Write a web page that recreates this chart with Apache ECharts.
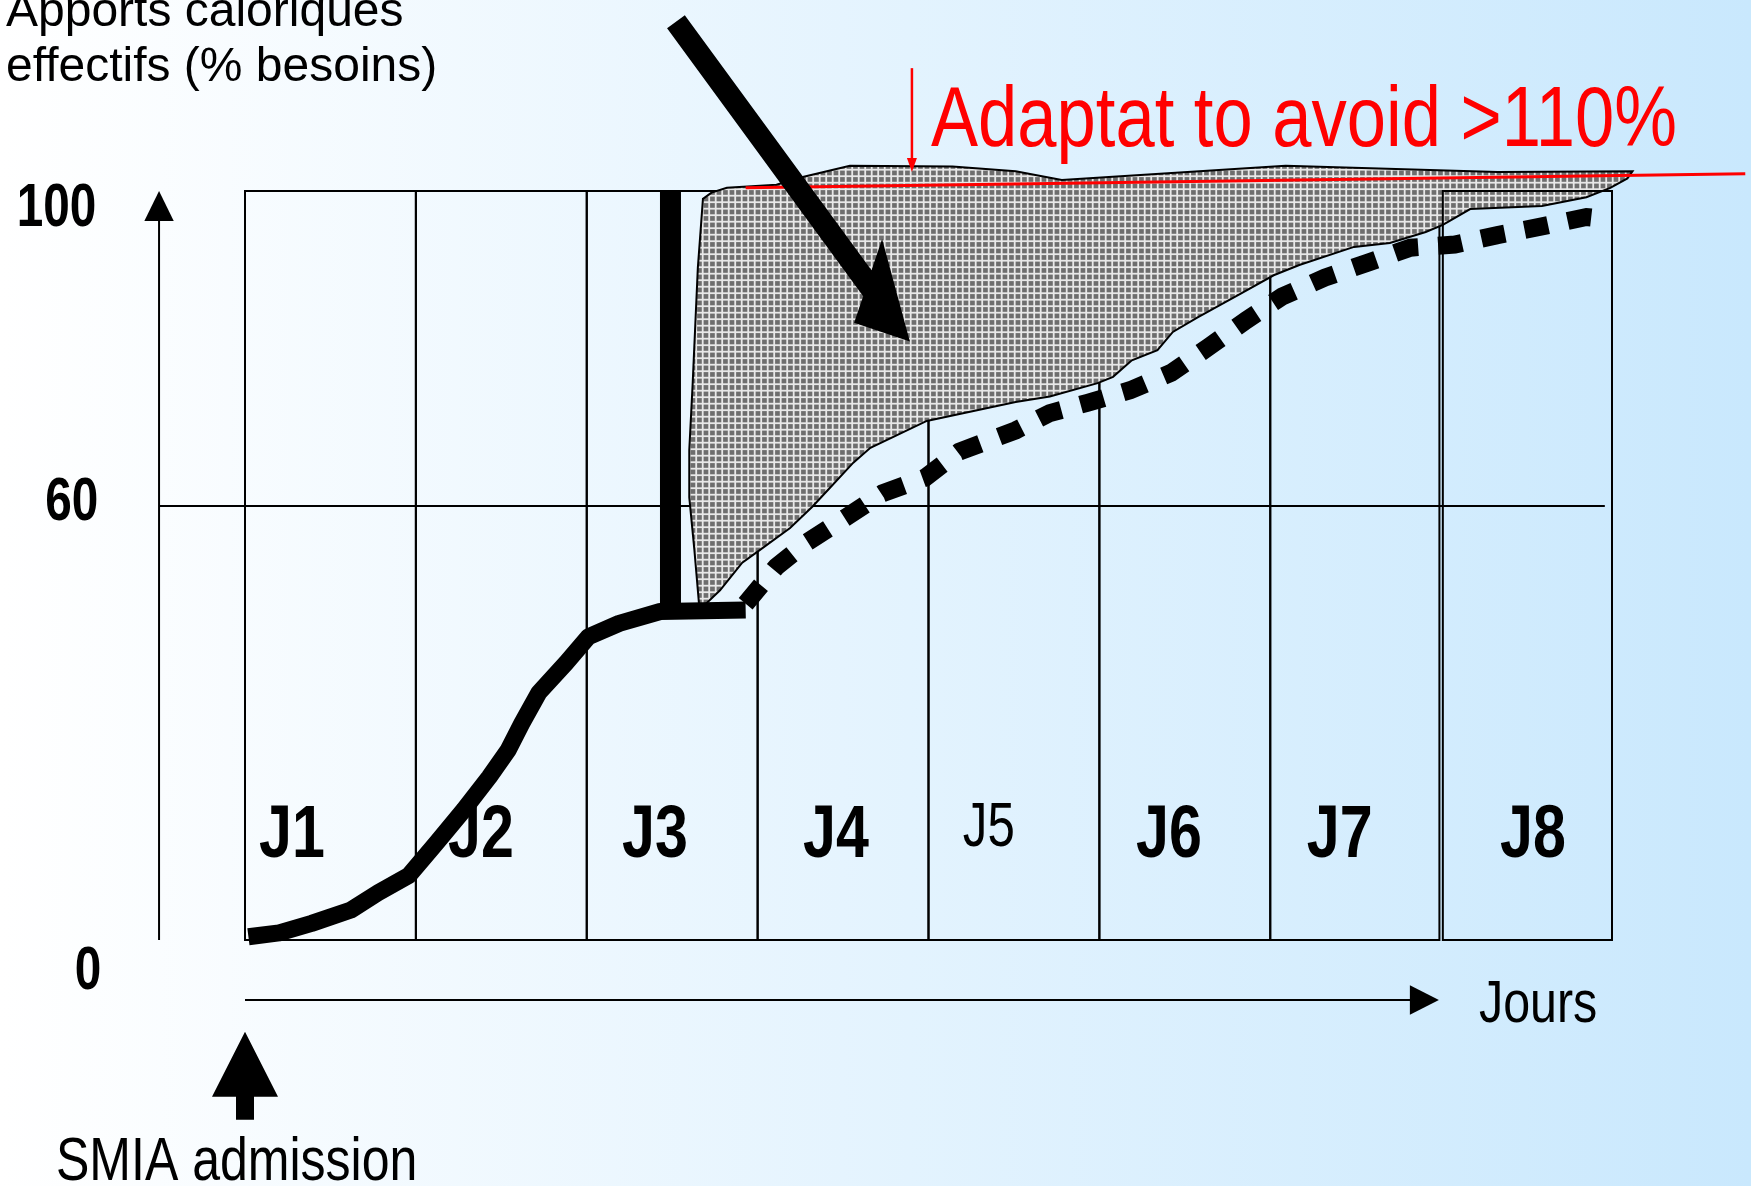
<!DOCTYPE html>
<html>
<head>
<meta charset="utf-8">
<script src="https://cdn.jsdelivr.net/npm/echarts@6/dist/echarts.min.js"></script>
<style>html,body{margin:0;padding:0;background:#fff;}#main{width:1751px;height:1186px;}</style>
</head>
<body>
<div id="main"></div>
<script>
// ---------- DATA ----------
const days = ['J1', 'J2', 'J3', 'J4', 'J5', 'J6', 'J7', 'J8'];
const yTicks = [0, 60, 100];
// Apports effectifs observés (trait plein) [jour, % besoins]
const intakeObserved = [[0.02,5.3],[0.2,5.8],[0.39,7.0],[0.62,8.7],[0.78,10.9],[0.96,13.1],[1.12,17.2],[1.28,21.4],[1.43,25.6],[1.54,29.0],[1.62,32.4],[1.72,36.3],[1.88,40.1],[2.01,43.4],[2.19,45.1],[2.43,46.6],[2.93,46.8]];
// Barre verticale (saut à 100 %)
const bolusBar = [[2.49,100],[2.49,45.9]];
// Apports projetés (pointillés)
const intakeProjected = [[2.93,47.6],[3.11,52.3],[3.29,55.4],[3.52,58.6],[3.73,61.6],[3.98,63.6],[4.18,66.9],[4.51,69.6],[4.71,71.8],[4.93,73.1],[5.18,74.7],[5.42,76.9],[5.64,80.2],[5.86,83.6],[6.07,86.6],[6.32,89.0],[6.57,90.9],[6.82,92.8],[7.08,93.2],[7.33,94.4],[7.59,95.5],[7.85,96.7],[7.93,96.5]];
// Zone grisée : bord supérieur puis bord inférieur
const gapUpper = [[2.66,46.8],[2.63,54.4],[2.60,61.1],[2.60,67.1],[2.62,75.6],[2.65,90.2],[2.68,99.0],[2.73,99.8],[2.82,100.4],[3.11,100.8],[3.27,101.8],[3.54,103.2],[4.14,103.1],[4.51,102.5],[4.78,101.4],[6.09,103.2],[7.33,102.4],[8.12,102.5],[8.09,101.6],[7.99,100.4]];
const gapLower = [[7.85,99.2],[7.59,98.1],[7.17,97.7],[7.01,95.7],[6.91,94.8],[6.70,93.4],[6.49,92.9],[6.17,90.6],[6.02,89.3],[5.83,87.0],[5.57,83.9],[5.43,82.1],[5.34,79.8],[5.19,78.5],[5.08,76.4],[4.99,75.6],[4.71,73.9],[4.51,73.2],[3.99,70.8],[3.66,67.4],[3.56,65.5],[3.41,62.0],[3.32,59.9],[3.19,57.2],[3.00,54.2],[2.91,52.8],[2.78,49.3],[2.66,46.8]];
// Ligne rouge (limite)
const limitLine = [[2.93,100.4],[8.78,102.2]];

// ---------- LAYOUT (positions, not data) ----------
const L = {
  boxBottom: 4.9, mainBoxEnd: 6.99, j8Start: 7.01, j8End: 8,
  yAxisX: -0.503, xAxisY: -2.73, xAxisEnd: 6.987, line60End: 7.958,
  dayLabelX: [0.275, 1.381, 2.399, 3.458, 4.353, 5.407, 6.407, 7.537],
  dayLabelY: 17.97, j5LabelY: 19.05,
  tickLabelX: -0.87, tickLabelDy: {0: -7, 60: -3, 100: 18}, tickLabelDx: {0: 5, 60: 2, 100: 0},
  bigArrowTail: [2.522, 121.5], bigArrowTip: [3.891, 80.9],
  redArrowFrom: [3.903, 115.6], redArrowTo: [3.903, 102.4],
  redTextAt: [4.015, 108.7],
  smiaArrowTip: [0, -6.76]
};
const FONT = '"Liberation Sans", Arial, Helvetica, sans-serif';

function arrowParts(a, b, w, hl, hw, color) {
  const dx = b[0]-a[0], dy = b[1]-a[1], len = Math.hypot(dx, dy);
  const ux = dx/len, uy = dy/len, nx = -uy, ny = ux;
  const base = [b[0]-ux*hl, b[1]-uy*hl];
  return [
    {type:'line', shape:{x1:a[0], y1:a[1], x2:base[0]+ux, y2:base[1]+uy}, style:{stroke:color, lineWidth:w}},
    {type:'polygon', shape:{points:[b, [base[0]+nx*hw, base[1]+ny*hw], [base[0]-nx*hw, base[1]-ny*hw]]}, style:{fill:color}}
  ];
}

function makePattern() {
  const cv = document.createElement('canvas');
  cv.width = 13; cv.height = 13;
  const g = cv.getContext('2d');
  g.fillStyle = '#e8e8e8'; g.fillRect(0, 0, 13, 13);
  g.fillStyle = '#6e6e6e';
  [[1.6,1.6],[8.1,1.6],[1.6,8.1],[8.1,8.1]].forEach(p => g.fillRect(p[0], p[1], 4.7, 4.7));
  return cv;
}
const hatch = {image: makePattern(), repeat: 'repeat'};

function dayText(i, p) {
  const isJ5 = days[i] === 'J5';
  return {
    type: 'text', x: p[0], y: p[1], scaleX: isJ5 ? 0.78 : 0.8,
    style: {text: days[i], fill: '#000', fontFamily: FONT, fontWeight: isJ5 ? 'normal' : 'bold',
            fontSize: isJ5 ? 63 : 74, align: 'center', verticalAlign: 'middle'}
  };
}

const chart = echarts.init(document.getElementById('main'), null, {renderer: 'canvas'});
chart.setOption({
  animation: false,
  backgroundColor: {type:'linear', x:0, y:0, x2:1, y2:0,
    colorStops:[{offset:0, color:'#ffffff'}, {offset:1, color:'#c9e8fd'}]},
  grid: {left: 245, right: 139, top: 191, bottom: 207.5},
  xAxis: {type:'value', min:0, max:8, show:false},
  yAxis: {type:'value', min:0, max:100, show:false},
  graphic: [
    {type:'text', x:6, y:13, style:{text:'Apports caloriques', fill:'#000', fontFamily:FONT, fontSize:48, verticalAlign:'middle'}},
    {type:'text', x:6, y:68, style:{text:'effectifs (% besoins)', fill:'#000', fontFamily:FONT, fontSize:48, verticalAlign:'middle'}},
    {type:'text', x:1479, y:1006, scaleX:0.82, style:{text:'Jours', fill:'#000', fontFamily:FONT, fontSize:59, verticalAlign:'middle'}},
    {type:'text', x:56, y:1163, scaleX:0.82, style:{text:'SMIA admission', fill:'#000', fontFamily:FONT, fontSize:61, verticalAlign:'middle'}}
  ],
  series: [
    { // frame: axes arrows, 60 line, tick labels, day cells J1-J7
      type:'custom', z:1, silent:true, data:[[0,0]],
      renderItem: function(params, api) {
        const c = p => api.coord(p);
        const ch = [];
        ch.push(...arrowParts(c([L.yAxisX, L.boxBottom]), c([L.yAxisX, 100]), 2, 30, 14.7, '#000'));
        ch.push(...arrowParts(c([0, L.xAxisY]), c([L.xAxisEnd, L.xAxisY]), 2, 29, 14.7, '#000'));
        const a = c([L.yAxisX, 60]), b = c([L.line60End, 60]);
        ch.push({type:'line', shape:{x1:a[0], y1:a[1], x2:b[0], y2:b[1]}, style:{stroke:'#000', lineWidth:2}});
        yTicks.forEach(v => {
          const p = c([L.tickLabelX, v]);
          ch.push({type:'text', x:p[0] + L.tickLabelDx[v], y:p[1] + L.tickLabelDy[v], scaleX:0.77,
            style:{text:String(v), fill:'#000', fontFamily:FONT, fontWeight:'bold', fontSize:62, align:'right', verticalAlign:'middle'}});
        });
        for (let i = 0; i < 7; i++) {
          const p0 = c([i, 100]), p1 = c([i === 6 ? L.mainBoxEnd : i + 1, L.boxBottom]);
          ch.push({type:'rect', shape:{x:p0[0], y:p0[1], width:p1[0]-p0[0], height:p1[1]-p0[1]},
            style:{fill:'none', stroke:'#000', lineWidth:2}});
          ch.push(dayText(i, c([L.dayLabelX[i], days[i] === 'J5' ? L.j5LabelY : L.dayLabelY])));
        }
        return {type:'group', children: ch};
      }
    },
    { // hatched gap area
      type:'custom', z:3, silent:true, data:[[0,0]],
      renderItem: function(params, api) {
        const pts = gapUpper.concat(gapLower).map(p => api.coord(p));
        return {type:'polygon', shape:{points: pts}, style:{fill: hatch, stroke:'#000', lineWidth:2}};
      }
    },
    { // J8 cell (drawn over the hatched area)
      type:'custom', z:4, silent:true, data:[[0,0]],
      renderItem: function(params, api) {
        const c = p => api.coord(p);
        const p0 = c([L.j8Start, 100]), p1 = c([L.j8End, L.boxBottom]);
        return {type:'group', children:[
          {type:'rect', shape:{x:p0[0], y:p0[1], width:p1[0]-p0[0], height:p1[1]-p0[1]}, style:{fill:'none', stroke:'#000', lineWidth:2}},
          dayText(7, c([L.dayLabelX[7], L.dayLabelY]))
        ]};
      }
    },
    {type:'line', z:5, clip:false, silent:true, data:intakeObserved, showSymbol:false, symbol:'none',
      lineStyle:{color:'#000', width:17, cap:'butt', join:'round'}},
    {type:'line', z:5, clip:false, silent:true, data:bolusBar, showSymbol:false, symbol:'none',
      lineStyle:{color:'#000', width:21, cap:'butt'}},
    {type:'line', z:6, clip:false, silent:true, data:intakeProjected, showSymbol:false, symbol:'none',
      lineStyle:{color:'#000', width:18, type:[24, 20], cap:'butt', join:'miter'}},
    { // limit line + annotations
      type:'custom', z:7, silent:true, data:[[0,0]],
      renderItem: function(params, api) {
        const c = p => api.coord(p);
        const ch = [];
        const l0 = c(limitLine[0]), l1 = c(limitLine[limitLine.length - 1]);
        ch.push({type:'line', shape:{x1:l0[0], y1:l0[1], x2:l1[0], y2:l1[1]}, style:{stroke:'#ff0000', lineWidth:3}});
        // big black arrow
        const T0 = c(L.bigArrowTail), T = c(L.bigArrowTip);
        const dx = T[0]-T0[0], dy = T[1]-T0[1], len = Math.hypot(dx, dy);
        const u = [dx/len, dy/len], n = [-u[1], u[0]];
        const P = (base, a, b) => [base[0] + u[0]*a + n[0]*b, base[1] + u[1]*a + n[1]*b];
        ch.push({type:'polygon', shape:{points:[
          P(T0, 0, -11), P(T, -80, -11), P(T, -99, -38), T, P(T, -48, 34), P(T, -64, 11), P(T0, 0, 11)
        ]}, style:{fill:'#000'}});
        // red arrow + text
        ch.push(...arrowParts(c(L.redArrowFrom), c(L.redArrowTo), 2.5, 14, 5, '#ff0000'));
        const rt = c(L.redTextAt);
        ch.push({type:'text', x:rt[0], y:rt[1], scaleX:0.83,
          style:{text:'Adaptat to avoid >110%', fill:'#ff0000', fontFamily:FONT, fontSize:85, align:'left', verticalAlign:'middle'}});
        // SMIA arrow
        const s = c(L.smiaArrowTip);
        const q = (x, y) => [s[0] + x, s[1] + y];
        ch.push({type:'polygon', shape:{points:[q(0,0), q(33,65), q(9,65), q(9,88), q(-9,88), q(-9,65), q(-33,65)]}, style:{fill:'#000'}});
        return {type:'group', children: ch};
      }
    }
  ]
});
</script>
</body>
</html>
